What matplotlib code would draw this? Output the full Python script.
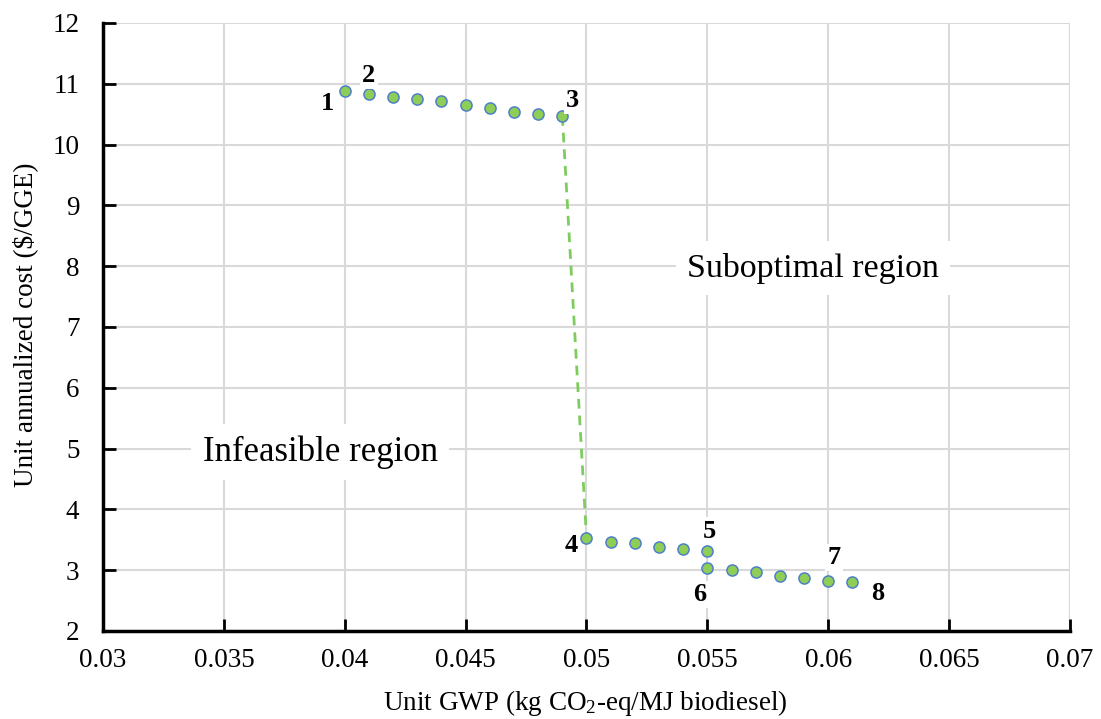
import matplotlib
matplotlib.use("Agg")
import matplotlib.pyplot as plt

# ---- data ----
upper_x = [0.040, 0.041, 0.042, 0.043, 0.044, 0.045, 0.046, 0.047, 0.048, 0.049]
upper_y = [10.885, 10.835, 10.78, 10.75, 10.72, 10.65, 10.61, 10.54, 10.51, 10.47]
lower_x = [0.050, 0.051, 0.052, 0.053, 0.054, 0.055, 0.055, 0.056, 0.057, 0.058, 0.059, 0.060, 0.061]
lower_y = [3.535, 3.47, 3.44, 3.38, 3.35, 3.31, 3.03, 3.00, 2.97, 2.90, 2.87, 2.82, 2.80]
point_labels = ["1", "2", "3", "4", "5", "6", "7", "8"]
x_ticks = [0.03, 0.035, 0.04, 0.045, 0.05, 0.055, 0.06, 0.065, 0.07]
x_tick_labels = ["0.03", "0.035", "0.04", "0.045", "0.05", "0.055", "0.06", "0.065", "0.07"]
y_ticks = [2, 3, 4, 5, 6, 7, 8, 9, 10, 11, 12]

plt.rcParams['font.family'] = ['Liberation Serif', 'DejaVu Serif']
plt.rcParams['mathtext.fontset'] = 'custom'
plt.rcParams['mathtext.rm'] = 'Liberation Serif'
plt.rcParams['mathtext.it'] = 'Liberation Serif:italic'

fig = plt.figure(figsize=(11.01, 7.19), dpi=100)
ax = fig.add_axes([103/1101, 1 - 631/719, (1070 - 103)/1101, (631 - 23)/719])

ax.set_xlim(0.03, 0.07)
ax.set_ylim(2, 12)
ax.set_xticks(x_ticks)
ax.set_xticklabels(x_tick_labels)
ax.set_yticks(y_ticks)
ax.grid(True, color='#d9d9d9', linewidth=1.5, zorder=0)
ax.set_axisbelow(True)

for s in ['top', 'right']:
    ax.spines[s].set_visible(False)
for s in ['left', 'bottom']:
    ax.spines[s].set_linewidth(2.5)
    ax.spines[s].set_color('black')
ax.tick_params(axis='both', direction='in', length=9, width=2, labelsize=19.5, colors='black')
ax.tick_params(axis='x', pad=12)
ax.tick_params(axis='y', pad=17)

# dashed jump line
ax.plot([upper_x[-1], lower_x[0]], [upper_y[-1], lower_y[0]],
        linestyle=(0, (3.5, 2.5)), color='#7fcc5e', linewidth=2, zorder=2)

mk = dict(linestyle='none', marker='o', markersize=8, markerfacecolor='#8fce56',
          markeredgecolor='#4f7fc8', markeredgewidth=1.1, zorder=3)
ax.plot(upper_x, upper_y, **mk)
ax.plot(lower_x, lower_y, **mk)

# point labels
anchors = [(upper_x[0], upper_y[0]), (upper_x[1], upper_y[1]), (upper_x[9], upper_y[9]),
           (lower_x[0], lower_y[0]), (lower_x[5], lower_y[5]), (lower_x[6], lower_y[6]),
           (lower_x[11], lower_y[11]), (lower_x[12], lower_y[12])]
offsets = [(-12.7, -9.4), (0, 13.2), (7.2, 11.3), (-11, -5.3), (1.2, 14.6), (-5.3, -18.7),
           (4.1, 16.8), (18.5, -7.9)]
for lab, (ax_, ay_), off in zip(point_labels, anchors, offsets):
    ax.annotate(lab, (ax_, ay_), xytext=off, textcoords='offset points',
                ha='center', va='center', fontsize=19, fontweight='bold',
                bbox=dict(facecolor='white', edgecolor='none', pad=1.5), zorder=4)

ax.text(0.05937, 7.97, "Suboptimal region", ha='center', va='center', fontsize=24.5,
        bbox=dict(facecolor='white', edgecolor='none', pad=8), zorder=4)
ax.text(0.03898, 4.94, "Infeasible region", ha='center', va='center', fontsize=25,
        bbox=dict(facecolor='white', edgecolor='none', pad=8), zorder=4)

fig.text(585/1101, 1 - 703/719, r"Unit GWP (kg CO$_2$-eq/MJ biodiesel)",
         ha='center', va='center', fontsize=19.5)
fig.text(25/1101, 1 - 325/719, "Unit annualized cost ($/GGE)", rotation=90,
         ha='center', va='center', fontsize=19.5)

fig.savefig("out.png", dpi=100)
